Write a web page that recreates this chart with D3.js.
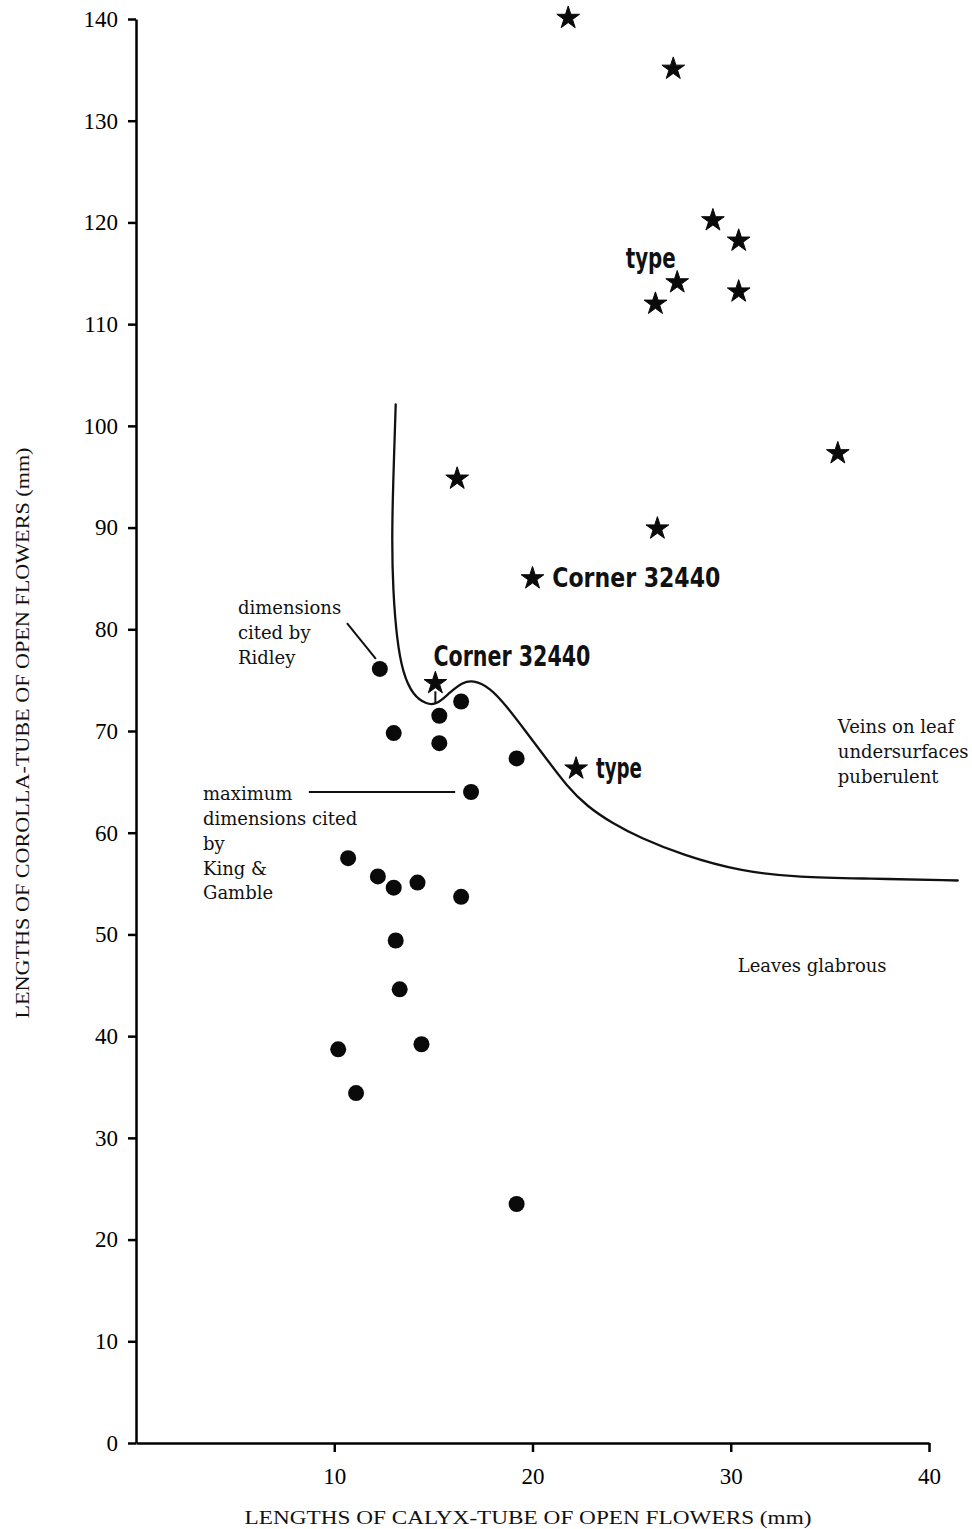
<!DOCTYPE html>
<html>
<head>
<meta charset="utf-8">
<script src="https://cdn.jsdelivr.net/npm/d3@7/dist/d3.min.js"></script>
<style>
  body { margin: 0; background: #fff; }
  svg { display: block; }
  .axis path, .axis line { stroke: #000; stroke-width: 2.5; }
  .axis text { font-family: "Liberation Serif", "Times New Roman", serif; font-size: 23px; fill: #000; }
  .note { font-family: "DejaVu Serif", serif; font-size: 18px; fill: #111; }
  .bold-label { font-family: "Liberation Sans Narrow", "DejaVu Sans Condensed", sans-serif; font-weight: bold; fill: #111; }
  .title { font-family: "Liberation Serif", "Times New Roman", serif; font-size: 19px; fill: #111; }
</style>
</head>
<body>
<div id="chart"></div>
<script>
// ---- data (mm) ----
// stars: specimens with puberulent leaf veins
var starX = [21.8, 27.1, 29.1, 30.4, 27.3, 26.2, 30.4, 35.4, 16.2, 26.3, 20.0, 15.1, 22.2];
var starY = [140.1, 135.1, 120.2, 118.2, 114.1, 112.0, 113.2, 97.3, 94.8, 89.9, 85.0, 74.7, 66.3];

// dots: specimens with glabrous leaves
var dotX = [12.3, 16.4, 15.3, 13.0, 15.3, 19.2, 16.9, 10.7, 12.2, 13.0, 14.2, 16.4, 13.1, 13.3, 14.4, 10.2, 11.1, 19.2];
var dotY = [76.1, 72.9, 71.5, 69.8, 68.8, 67.3, 64.0, 57.5, 55.7, 54.6, 55.1, 53.7, 49.4, 44.6, 39.2, 38.7, 34.4, 23.5];

// hand-drawn dividing line
var curveX = [13.1, 12.96, 12.91, 12.96, 13.16, 13.46, 13.97, 14.67, 15.18, 15.83, 16.49, 16.99, 17.85, 18.71, 19.72, 20.73, 21.73, 22.74, 24.05, 25.42, 27.58, 30.46, 33.48, 36.86, 41.45];
var curveY = [102.1, 93.7, 88.8, 83.9, 78.9, 75.7, 73.5, 72.6, 72.6, 73.8, 74.8, 75.0, 74.3, 72.4, 69.8, 67.2, 64.6, 62.6, 60.9, 59.5, 57.8, 56.2, 55.6, 55.5, 55.3];

var xTicks = [10, 20, 30, 40];
var yTicks = [0, 10, 20, 30, 40, 50, 60, 70, 80, 90, 100, 110, 120, 130, 140];

var xTitle = "LENGTHS OF CALYX-TUBE OF OPEN FLOWERS (mm)";
var yTitle = "LENGTHS OF COROLLA-TUBE OF OPEN FLOWERS (mm)";

// specimen labels (anchor in data units)
var boldText = ["type", "type", "Corner 32440", "Corner 32440"];
var boldX = [24.7, 23.2, 21.0, 15.0];
var boldY = [115.5, 65.4, 84.2, 76.4];
var boldLen = [50, 46, 168, 157];
var boldSize = [29, 28, 27, 28];

// region / source notes
var noteLines = [
    ["dimensions", "cited by", "Ridley"],
    ["maximum", "dimensions cited", "by", "King &", "Gamble"],
    ["Veins on leaf", "undersurfaces", "puberulent"],
    ["Leaves glabrous"]
];
var noteX = [5.14, 3.38, 35.4, 30.35];
var noteY = [81.5, 63.2, 69.8, 46.3];

// leader lines [x1, y1, x2, y2]
var leaders = [
    [10.64, 80.6, 12.1, 77.1],
    [8.72, 64.0, 16.1, 64.0],
    [15.1, 73.9, 15.1, 72.7]
];

// ---- drawing ----
var width = 972, height = 1529;

var svg = d3.select("#chart")
    .append("svg")
    .attr("width", width)
    .attr("height", height);

var x = d3.scaleLinear().domain([0, 40]).range([136, 929]);
var y = d3.scaleLinear().domain([0, 140]).range([1443, 19]);

// X axis
svg.append("g")
    .attr("class", "axis")
    .attr("transform", "translate(0," + y(0) + ")")
    .call(d3.axisBottom(x).tickValues(xTicks).tickSize(9).tickSizeOuter(0).tickPadding(16).tickFormat(d3.format("d")));

// Y axis
svg.append("g")
    .attr("class", "axis")
    .attr("transform", "translate(" + x(0) + ",0)")
    .call(d3.axisLeft(y).tickValues(yTicks).tickSize(8).tickSizeOuter(0).tickPadding(10).tickFormat(d3.format("d")));

// axis titles
svg.append("text")
    .attr("class", "title")
    .attr("x", 528)
    .attr("y", 1524)
    .attr("text-anchor", "middle")
    .attr("textLength", 567)
    .attr("lengthAdjust", "spacingAndGlyphs")
    .text(xTitle);

svg.append("text")
    .attr("class", "title")
    .attr("transform", "translate(29,733) rotate(-90)")
    .attr("text-anchor", "middle")
    .attr("textLength", 571)
    .attr("lengthAdjust", "spacingAndGlyphs")
    .text(yTitle);

// dividing curve
var curveData = curveX.map(function (d, i) { return {x: d, y: curveY[i]}; });
var line = d3.line()
    .x(function (d) { return x(d.x); })
    .y(function (d) { return y(d.y); })
    .curve(d3.curveBasis);

svg.append("path")
    .datum(curveData)
    .attr("fill", "none")
    .attr("stroke", "#111")
    .attr("stroke-width", 2.3)
    .attr("stroke-linecap", "round")
    .attr("d", line);

// leader lines
svg.selectAll(".leader")
    .data(leaders)
    .enter().append("line")
    .attr("class", "leader")
    .attr("x1", function (d) { return x(d[0]); })
    .attr("y1", function (d) { return y(d[1]); })
    .attr("x2", function (d) { return x(d[2]); })
    .attr("y2", function (d) { return y(d[3]); })
    .attr("stroke", "#111")
    .attr("stroke-width", 2);

// dots
svg.selectAll(".dot")
    .data(dotX)
    .enter().append("circle")
    .attr("class", "dot")
    .attr("cx", function (d) { return x(d); })
    .attr("cy", function (d, i) { return y(dotY[i]); })
    .attr("r", 8)
    .attr("fill", "#0a0a0a");

// stars
var star = d3.symbol().type(d3.symbolStar).size(160);
svg.selectAll(".star")
    .data(starX)
    .enter().append("path")
    .attr("class", "star")
    .attr("transform", function (d, i) { return "translate(" + x(d) + "," + y(starY[i]) + ")"; })
    .attr("d", star)
    .attr("fill", "#0a0a0a")
    .attr("stroke", "#0a0a0a")
    .attr("stroke-width", 1)
    .attr("stroke-linejoin", "round");

// bold specimen labels
svg.selectAll(".bold-label")
    .data(boldText)
    .enter().append("text")
    .attr("class", "bold-label")
    .attr("x", function (d, i) { return x(boldX[i]); })
    .attr("y", function (d, i) { return y(boldY[i]); })
    .attr("font-size", function (d, i) { return boldSize[i]; })
    .attr("textLength", function (d, i) { return boldLen[i]; })
    .attr("lengthAdjust", "spacingAndGlyphs")
    .text(function (d) { return d; });

// notes
noteLines.forEach(function (lines, i) {
    var t = svg.append("text")
        .attr("class", "note")
        .attr("x", x(noteX[i]))
        .attr("y", y(noteY[i]));
    lines.forEach(function (s, j) {
        t.append("tspan")
            .attr("x", x(noteX[i]))
            .attr("dy", j === 0 ? 0 : 24.8)
            .text(s);
    });
});
</script>
</body>
</html>
